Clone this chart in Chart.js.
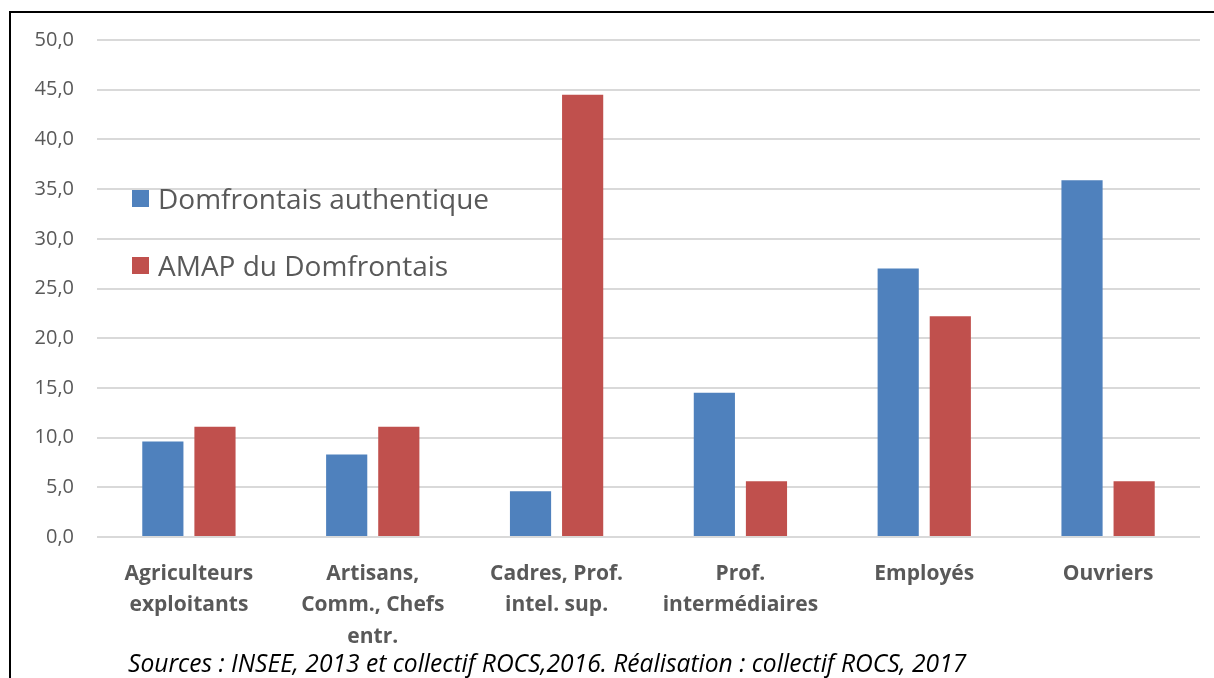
<!DOCTYPE html>
<html>
<head>
<meta charset="utf-8">
<script src="https://cdn.jsdelivr.net/npm/chart.js@4.4.1/dist/chart.umd.min.js"></script>
<style>
  html, body { margin: 0; padding: 0; background: #fff; }
  #wrap { position: relative; width: 1214px; height: 678px; overflow: hidden; }
  #frame {
    position: absolute; left: 9px; top: 11px; width: 1300px; height: 800px;
    border-left: 2px solid #000; border-top: 2px solid #000; box-sizing: border-box;
  }
  #legend {
    position: absolute; left: 132px; top: 176px;
    font-family: "Open Sans", sans-serif; font-size: 28px; color: #595959;
  }
  #legend .item { display: flex; align-items: center; height: 44px; margin-bottom: 23px; }
  #legend .sw { width: 17px; height: 17px; margin-right: 9px; }
  #source {
    position: absolute; left: 128px; top: 646px; line-height: 34px;
    font-family: "Open Sans", sans-serif; font-style: italic; font-size: 24.6px; color: #000;
    white-space: nowrap;
  }
</style>
</head>
<body>
<div id="wrap">
  <canvas id="chart" width="1214" height="678"></canvas>
  <div id="frame"></div>
  <div id="legend"></div>
  <div id="source">Sources : INSEE, 2013 et collectif ROCS,2016. Réalisation : collectif ROCS, 2017</div>
</div>
<script>
// ─── Data ────────────────────────────────────────────────────────────────
const categories = [
    ["Agriculteurs", "exploitants"],
    ["Artisans,", "Comm., Chefs", "entr."],
    ["Cadres, Prof.", "intel. sup."],
    ["Prof.", "intermédiaires"],
    ["Employés"],
    ["Ouvriers"],
];
const seriesNames   = ["Domfrontais authentique", "AMAP du Domfrontais"];
const domfrontais   = [9.6, 8.3, 4.6, 14.5, 27.0, 35.9];
const amap          = [11.1, 11.1, 44.5, 5.6, 22.2, 5.6];
const seriesColors  = ["#4f81bd", "#c0504d"];
const yTicks        = [0, 5, 10, 15, 20, 25, 30, 35, 40, 45, 50];

// ─── Legend (HTML, inside plot area) ────────────────────────────────────
const legendEl = document.getElementById("legend");
seriesNames.forEach((name, i) => {
    const item = document.createElement("div");
    item.className = "item";
    item.innerHTML = `<span class="sw" style="background:${seriesColors[i]}"></span><span>${name}</span>`;
    legendEl.appendChild(item);
});

// ─── Chart ──────────────────────────────────────────────────────────────
new Chart(document.getElementById("chart"), {
    type: "bar",
    data: {
        labels: categories,
        datasets: [
            { label: seriesNames[0], data: domfrontais, backgroundColor: seriesColors[0] },
            { label: seriesNames[1], data: amap,        backgroundColor: seriesColors[1] },
        ],
    },
    options: {
        responsive: false,
        animation: false,
        layout: { padding: { left: 0, right: 14, top: 40, bottom: 0 } },
        datasets: {
            bar: { categoryPercentage: 0.567, barPercentage: 0.79 },
        },
        plugins: {
            legend:  { display: false },
            tooltip: { enabled: false },
        },
        scales: {
            x: {
                grid:   { display: false },
                border: { display: false },
                ticks: {
                    color: "#595959",
                    padding: 13,
                    maxRotation: 0,
                    autoSkip: false,
                    font: { family: "Open Sans", size: 21, weight: "bold", lineHeight: 1.5 },
                },
                afterFit: (scale) => { scale.height = 141; },
            },
            y: {
                min: 0,
                max: 50,
                afterBuildTicks: (scale) => { scale.ticks = yTicks.map((v) => ({ value: v })); },
                grid:   { color: "#d9d9d9", lineWidth: 2, drawTicks: false },
                border: { display: false },
                ticks: {
                    color: "#595959",
                    padding: 23,
                    font: { family: "Open Sans", size: 20 },
                    callback: (v) => v.toFixed(1).replace(".", ","),
                },
                afterFit: (scale) => { scale.width = 97; },
            },
        },
    },
});
</script>
</body>
</html>
